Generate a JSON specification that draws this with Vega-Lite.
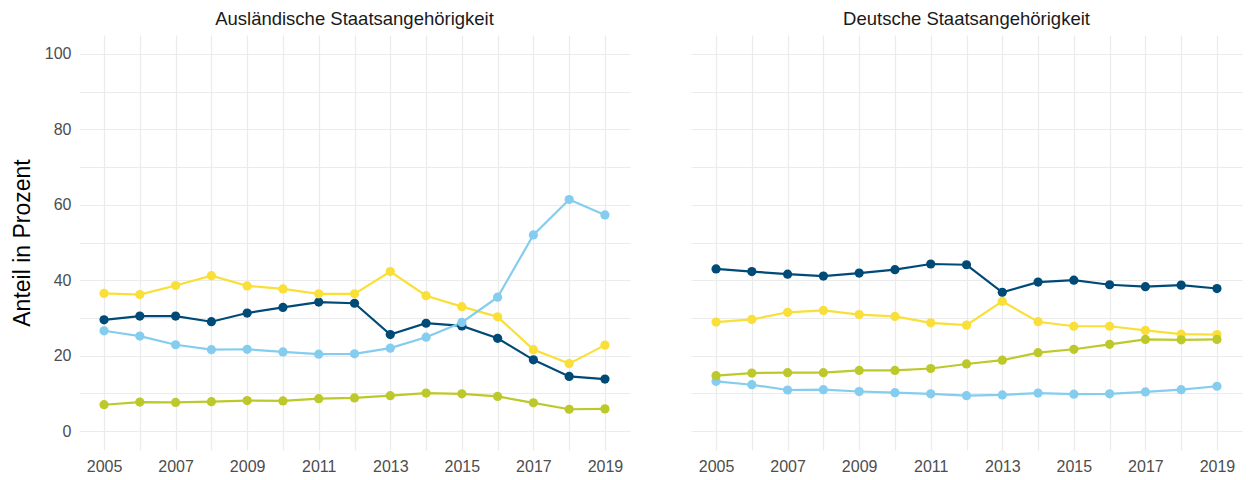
{
  "$schema": "https://vega.github.io/schema/vega-lite/v6.json",
  "background": "white",
  "padding": {"left": 11, "top": 9, "right": 2, "bottom": 0},
  "config": {
    "font": "Liberation Sans",
    "view": {"stroke": null},
    "facet": {"spacing": 61}
  },
  "data": {"values": [
    {"p":"Ausländische Staatsangehörigkeit","s":"Gruppe 1","year":2005,"v":29.5},
    {"p":"Ausländische Staatsangehörigkeit","s":"Gruppe 1","year":2006,"v":30.5},
    {"p":"Ausländische Staatsangehörigkeit","s":"Gruppe 1","year":2007,"v":30.5},
    {"p":"Ausländische Staatsangehörigkeit","s":"Gruppe 1","year":2008,"v":29.0},
    {"p":"Ausländische Staatsangehörigkeit","s":"Gruppe 1","year":2009,"v":31.3},
    {"p":"Ausländische Staatsangehörigkeit","s":"Gruppe 1","year":2010,"v":32.8},
    {"p":"Ausländische Staatsangehörigkeit","s":"Gruppe 1","year":2011,"v":34.2},
    {"p":"Ausländische Staatsangehörigkeit","s":"Gruppe 1","year":2012,"v":33.9},
    {"p":"Ausländische Staatsangehörigkeit","s":"Gruppe 1","year":2013,"v":25.6},
    {"p":"Ausländische Staatsangehörigkeit","s":"Gruppe 1","year":2014,"v":28.6},
    {"p":"Ausländische Staatsangehörigkeit","s":"Gruppe 1","year":2015,"v":27.9},
    {"p":"Ausländische Staatsangehörigkeit","s":"Gruppe 1","year":2016,"v":24.6},
    {"p":"Ausländische Staatsangehörigkeit","s":"Gruppe 1","year":2017,"v":18.9},
    {"p":"Ausländische Staatsangehörigkeit","s":"Gruppe 1","year":2018,"v":14.5},
    {"p":"Ausländische Staatsangehörigkeit","s":"Gruppe 1","year":2019,"v":13.8},
    {"p":"Ausländische Staatsangehörigkeit","s":"Gruppe 2","year":2005,"v":36.5},
    {"p":"Ausländische Staatsangehörigkeit","s":"Gruppe 2","year":2006,"v":36.2},
    {"p":"Ausländische Staatsangehörigkeit","s":"Gruppe 2","year":2007,"v":38.6},
    {"p":"Ausländische Staatsangehörigkeit","s":"Gruppe 2","year":2008,"v":41.2},
    {"p":"Ausländische Staatsangehörigkeit","s":"Gruppe 2","year":2009,"v":38.5},
    {"p":"Ausländische Staatsangehörigkeit","s":"Gruppe 2","year":2010,"v":37.7},
    {"p":"Ausländische Staatsangehörigkeit","s":"Gruppe 2","year":2011,"v":36.4},
    {"p":"Ausländische Staatsangehörigkeit","s":"Gruppe 2","year":2012,"v":36.4},
    {"p":"Ausländische Staatsangehörigkeit","s":"Gruppe 2","year":2013,"v":42.3},
    {"p":"Ausländische Staatsangehörigkeit","s":"Gruppe 2","year":2014,"v":35.9},
    {"p":"Ausländische Staatsangehörigkeit","s":"Gruppe 2","year":2015,"v":33.0},
    {"p":"Ausländische Staatsangehörigkeit","s":"Gruppe 2","year":2016,"v":30.3},
    {"p":"Ausländische Staatsangehörigkeit","s":"Gruppe 2","year":2017,"v":21.6},
    {"p":"Ausländische Staatsangehörigkeit","s":"Gruppe 2","year":2018,"v":17.9},
    {"p":"Ausländische Staatsangehörigkeit","s":"Gruppe 2","year":2019,"v":22.8},
    {"p":"Ausländische Staatsangehörigkeit","s":"Gruppe 3","year":2005,"v":26.6},
    {"p":"Ausländische Staatsangehörigkeit","s":"Gruppe 3","year":2006,"v":25.2},
    {"p":"Ausländische Staatsangehörigkeit","s":"Gruppe 3","year":2007,"v":22.9},
    {"p":"Ausländische Staatsangehörigkeit","s":"Gruppe 3","year":2008,"v":21.6},
    {"p":"Ausländische Staatsangehörigkeit","s":"Gruppe 3","year":2009,"v":21.7},
    {"p":"Ausländische Staatsangehörigkeit","s":"Gruppe 3","year":2010,"v":21.0},
    {"p":"Ausländische Staatsangehörigkeit","s":"Gruppe 3","year":2011,"v":20.4},
    {"p":"Ausländische Staatsangehörigkeit","s":"Gruppe 3","year":2012,"v":20.5},
    {"p":"Ausländische Staatsangehörigkeit","s":"Gruppe 3","year":2013,"v":22.0},
    {"p":"Ausländische Staatsangehörigkeit","s":"Gruppe 3","year":2014,"v":24.9},
    {"p":"Ausländische Staatsangehörigkeit","s":"Gruppe 3","year":2015,"v":28.8},
    {"p":"Ausländische Staatsangehörigkeit","s":"Gruppe 3","year":2016,"v":35.5},
    {"p":"Ausländische Staatsangehörigkeit","s":"Gruppe 3","year":2017,"v":52.0},
    {"p":"Ausländische Staatsangehörigkeit","s":"Gruppe 3","year":2018,"v":61.4},
    {"p":"Ausländische Staatsangehörigkeit","s":"Gruppe 3","year":2019,"v":57.3},
    {"p":"Ausländische Staatsangehörigkeit","s":"Gruppe 4","year":2005,"v":7.0},
    {"p":"Ausländische Staatsangehörigkeit","s":"Gruppe 4","year":2006,"v":7.7},
    {"p":"Ausländische Staatsangehörigkeit","s":"Gruppe 4","year":2007,"v":7.6},
    {"p":"Ausländische Staatsangehörigkeit","s":"Gruppe 4","year":2008,"v":7.8},
    {"p":"Ausländische Staatsangehörigkeit","s":"Gruppe 4","year":2009,"v":8.1},
    {"p":"Ausländische Staatsangehörigkeit","s":"Gruppe 4","year":2010,"v":8.0},
    {"p":"Ausländische Staatsangehörigkeit","s":"Gruppe 4","year":2011,"v":8.6},
    {"p":"Ausländische Staatsangehörigkeit","s":"Gruppe 4","year":2012,"v":8.8},
    {"p":"Ausländische Staatsangehörigkeit","s":"Gruppe 4","year":2013,"v":9.4},
    {"p":"Ausländische Staatsangehörigkeit","s":"Gruppe 4","year":2014,"v":10.1},
    {"p":"Ausländische Staatsangehörigkeit","s":"Gruppe 4","year":2015,"v":9.9},
    {"p":"Ausländische Staatsangehörigkeit","s":"Gruppe 4","year":2016,"v":9.2},
    {"p":"Ausländische Staatsangehörigkeit","s":"Gruppe 4","year":2017,"v":7.5},
    {"p":"Ausländische Staatsangehörigkeit","s":"Gruppe 4","year":2018,"v":5.8},
    {"p":"Ausländische Staatsangehörigkeit","s":"Gruppe 4","year":2019,"v":5.9},
    {"p":"Deutsche Staatsangehörigkeit","s":"Gruppe 1","year":2005,"v":43.0},
    {"p":"Deutsche Staatsangehörigkeit","s":"Gruppe 1","year":2006,"v":42.3},
    {"p":"Deutsche Staatsangehörigkeit","s":"Gruppe 1","year":2007,"v":41.6},
    {"p":"Deutsche Staatsangehörigkeit","s":"Gruppe 1","year":2008,"v":41.1},
    {"p":"Deutsche Staatsangehörigkeit","s":"Gruppe 1","year":2009,"v":41.9},
    {"p":"Deutsche Staatsangehörigkeit","s":"Gruppe 1","year":2010,"v":42.8},
    {"p":"Deutsche Staatsangehörigkeit","s":"Gruppe 1","year":2011,"v":44.3},
    {"p":"Deutsche Staatsangehörigkeit","s":"Gruppe 1","year":2012,"v":44.1},
    {"p":"Deutsche Staatsangehörigkeit","s":"Gruppe 1","year":2013,"v":36.8},
    {"p":"Deutsche Staatsangehörigkeit","s":"Gruppe 1","year":2014,"v":39.5},
    {"p":"Deutsche Staatsangehörigkeit","s":"Gruppe 1","year":2015,"v":40.0},
    {"p":"Deutsche Staatsangehörigkeit","s":"Gruppe 1","year":2016,"v":38.8},
    {"p":"Deutsche Staatsangehörigkeit","s":"Gruppe 1","year":2017,"v":38.3},
    {"p":"Deutsche Staatsangehörigkeit","s":"Gruppe 1","year":2018,"v":38.7},
    {"p":"Deutsche Staatsangehörigkeit","s":"Gruppe 1","year":2019,"v":37.8},
    {"p":"Deutsche Staatsangehörigkeit","s":"Gruppe 2","year":2005,"v":28.9},
    {"p":"Deutsche Staatsangehörigkeit","s":"Gruppe 2","year":2006,"v":29.6},
    {"p":"Deutsche Staatsangehörigkeit","s":"Gruppe 2","year":2007,"v":31.5},
    {"p":"Deutsche Staatsangehörigkeit","s":"Gruppe 2","year":2008,"v":32.0},
    {"p":"Deutsche Staatsangehörigkeit","s":"Gruppe 2","year":2009,"v":30.9},
    {"p":"Deutsche Staatsangehörigkeit","s":"Gruppe 2","year":2010,"v":30.4},
    {"p":"Deutsche Staatsangehörigkeit","s":"Gruppe 2","year":2011,"v":28.7},
    {"p":"Deutsche Staatsangehörigkeit","s":"Gruppe 2","year":2012,"v":28.1},
    {"p":"Deutsche Staatsangehörigkeit","s":"Gruppe 2","year":2013,"v":34.4},
    {"p":"Deutsche Staatsangehörigkeit","s":"Gruppe 2","year":2014,"v":29.0},
    {"p":"Deutsche Staatsangehörigkeit","s":"Gruppe 2","year":2015,"v":27.8},
    {"p":"Deutsche Staatsangehörigkeit","s":"Gruppe 2","year":2016,"v":27.8},
    {"p":"Deutsche Staatsangehörigkeit","s":"Gruppe 2","year":2017,"v":26.7},
    {"p":"Deutsche Staatsangehörigkeit","s":"Gruppe 2","year":2018,"v":25.7},
    {"p":"Deutsche Staatsangehörigkeit","s":"Gruppe 2","year":2019,"v":25.6},
    {"p":"Deutsche Staatsangehörigkeit","s":"Gruppe 3","year":2005,"v":13.2},
    {"p":"Deutsche Staatsangehörigkeit","s":"Gruppe 3","year":2006,"v":12.3},
    {"p":"Deutsche Staatsangehörigkeit","s":"Gruppe 3","year":2007,"v":10.9},
    {"p":"Deutsche Staatsangehörigkeit","s":"Gruppe 3","year":2008,"v":11.0},
    {"p":"Deutsche Staatsangehörigkeit","s":"Gruppe 3","year":2009,"v":10.5},
    {"p":"Deutsche Staatsangehörigkeit","s":"Gruppe 3","year":2010,"v":10.2},
    {"p":"Deutsche Staatsangehörigkeit","s":"Gruppe 3","year":2011,"v":9.9},
    {"p":"Deutsche Staatsangehörigkeit","s":"Gruppe 3","year":2012,"v":9.4},
    {"p":"Deutsche Staatsangehörigkeit","s":"Gruppe 3","year":2013,"v":9.6},
    {"p":"Deutsche Staatsangehörigkeit","s":"Gruppe 3","year":2014,"v":10.1},
    {"p":"Deutsche Staatsangehörigkeit","s":"Gruppe 3","year":2015,"v":9.8},
    {"p":"Deutsche Staatsangehörigkeit","s":"Gruppe 3","year":2016,"v":9.9},
    {"p":"Deutsche Staatsangehörigkeit","s":"Gruppe 3","year":2017,"v":10.4},
    {"p":"Deutsche Staatsangehörigkeit","s":"Gruppe 3","year":2018,"v":11.0},
    {"p":"Deutsche Staatsangehörigkeit","s":"Gruppe 3","year":2019,"v":11.9},
    {"p":"Deutsche Staatsangehörigkeit","s":"Gruppe 4","year":2005,"v":14.7},
    {"p":"Deutsche Staatsangehörigkeit","s":"Gruppe 4","year":2006,"v":15.4},
    {"p":"Deutsche Staatsangehörigkeit","s":"Gruppe 4","year":2007,"v":15.5},
    {"p":"Deutsche Staatsangehörigkeit","s":"Gruppe 4","year":2008,"v":15.5},
    {"p":"Deutsche Staatsangehörigkeit","s":"Gruppe 4","year":2009,"v":16.1},
    {"p":"Deutsche Staatsangehörigkeit","s":"Gruppe 4","year":2010,"v":16.1},
    {"p":"Deutsche Staatsangehörigkeit","s":"Gruppe 4","year":2011,"v":16.6},
    {"p":"Deutsche Staatsangehörigkeit","s":"Gruppe 4","year":2012,"v":17.8},
    {"p":"Deutsche Staatsangehörigkeit","s":"Gruppe 4","year":2013,"v":18.8},
    {"p":"Deutsche Staatsangehörigkeit","s":"Gruppe 4","year":2014,"v":20.8},
    {"p":"Deutsche Staatsangehörigkeit","s":"Gruppe 4","year":2015,"v":21.7},
    {"p":"Deutsche Staatsangehörigkeit","s":"Gruppe 4","year":2016,"v":23.0},
    {"p":"Deutsche Staatsangehörigkeit","s":"Gruppe 4","year":2017,"v":24.3},
    {"p":"Deutsche Staatsangehörigkeit","s":"Gruppe 4","year":2018,"v":24.2},
    {"p":"Deutsche Staatsangehörigkeit","s":"Gruppe 4","year":2019,"v":24.3}
  ]},
  "facet": {
    "column": {
      "field": "p",
      "type": "nominal",
      "title": null,
      "header": {"labelFontSize": 18.5, "labelColor": "#1a1a1a", "labelPadding": 7, "labelFont": "Liberation Sans"}
    }
  },
  "spec": {
    "width": 551,
    "height": 415,
    "encoding": {
      "x": {
        "field": "year",
        "type": "quantitative",
        "scale": {"domain": [2004.3, 2019.7], "nice": false, "zero": false},
        "axis": {
          "title": null,
          "values": [2005,2006,2007,2008,2009,2010,2011,2012,2013,2014,2015,2016,2017,2018,2019],
          "labelExpr": "datum.value % 2 == 1 ? datum.label : ''",
          "format": "d",
          "domain": false,
          "ticks": false,
          "labelPadding": 8,
          "labelFontSize": 16,
          "labelColor": "#4d4d4d",
          "gridColor": "#ebebeb",
          "gridWidth": 1.2,
          "labelFlush": false,
          "labelOverlap": false
        }
      },
      "y": {
        "field": "v",
        "type": "quantitative",
        "scale": {"domain": [-5, 105], "nice": false},
        "axis": {
          "title": "Anteil in Prozent",
          "titleFontSize": 23,
          "titleFontWeight": "normal",
          "titleColor": "#000000",
          "titlePadding": 10,
          "values": [0,10,20,30,40,50,60,70,80,90,100],
          "labelExpr": "datum.value % 20 == 0 ? datum.label : ''",
          "domain": false,
          "ticks": false,
          "labelPadding": 8,
          "labelFontSize": 16,
          "labelColor": "#4d4d4d",
          "gridColor": "#ebebeb",
          "gridWidth": 1.2,
          "labelOverlap": false
        }
      },
      "color": {
        "field": "s",
        "type": "nominal",
        "legend": null,
        "scale": {
          "domain": ["Gruppe 1","Gruppe 2","Gruppe 3","Gruppe 4"],
          "range": ["#004a77","#f9df37","#84cdee","#bdc92b"]
        }
      }
    },
    "layer": [
      {"mark": {"type": "line", "strokeWidth": 2.2}},
      {"mark": {"type": "point", "filled": true, "opacity": 1, "size": 85}}
    ]
  }
}
